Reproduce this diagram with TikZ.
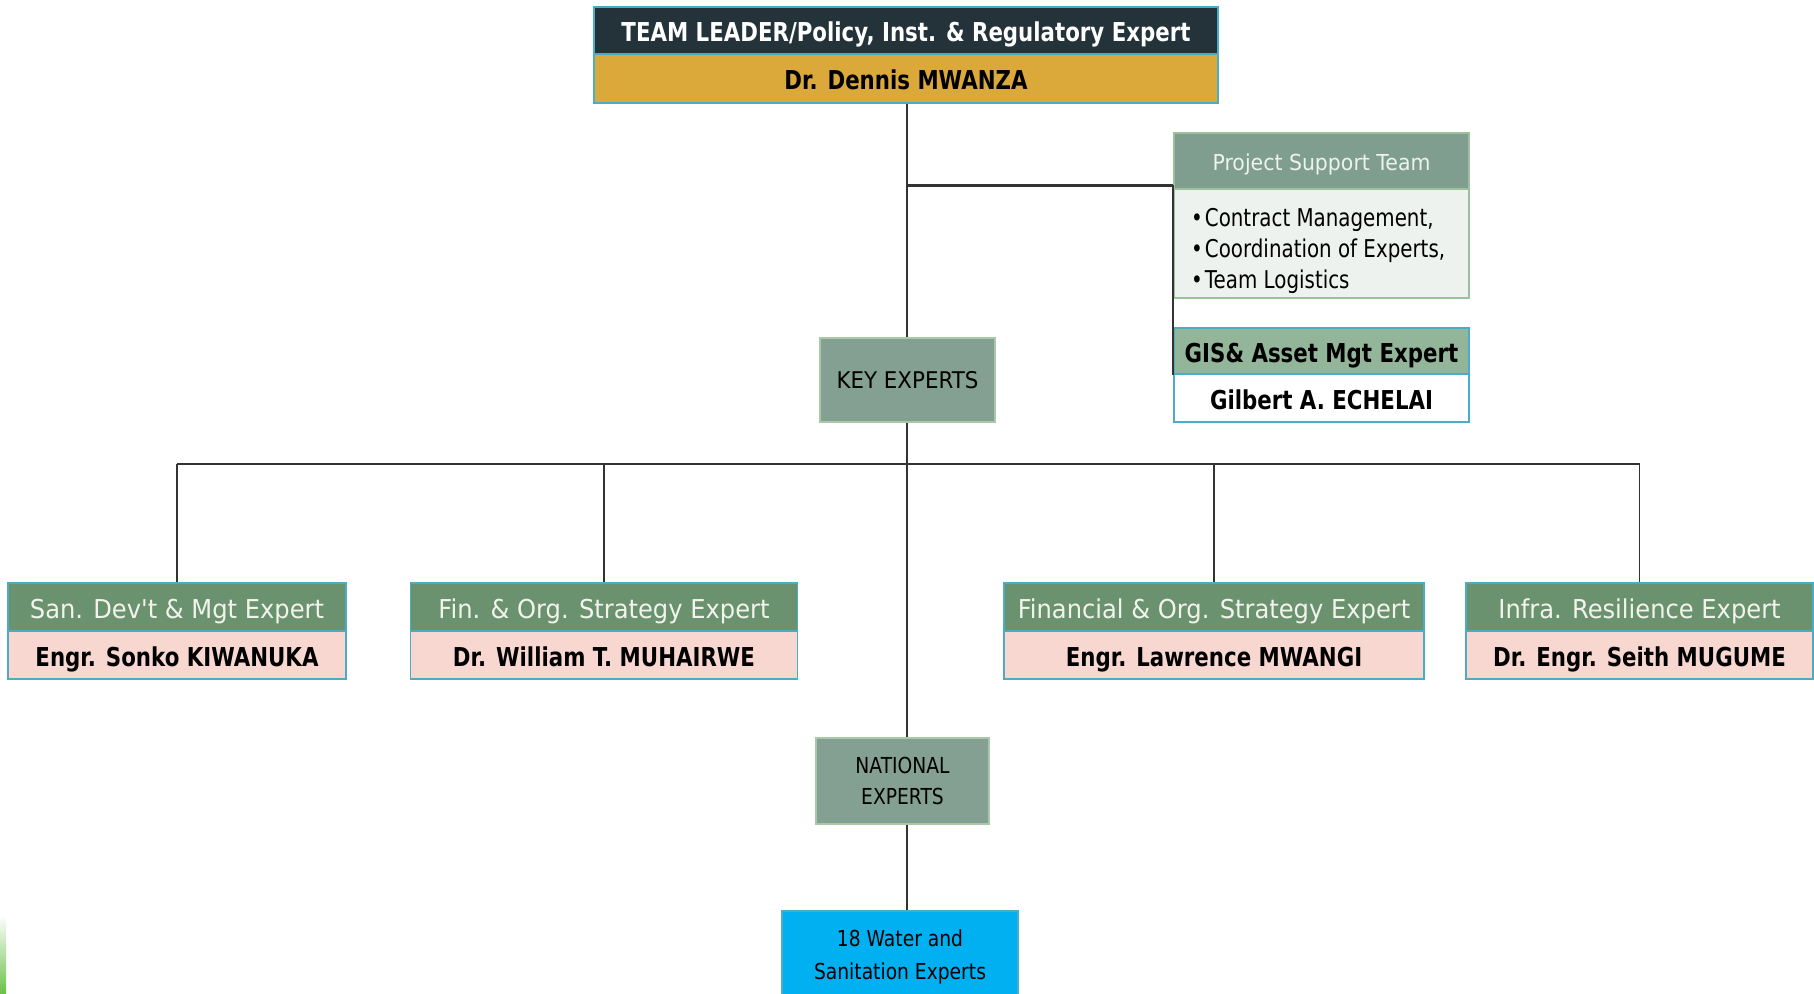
\documentclass[tikz,border=0pt]{standalone}
\usepackage{fontspec}
\setmainfont{DejaVu Sans}[FakeStretch=0.85]
\newfontfamily\bdf{DejaVu Sans}[FakeStretch=0.82]
\newfontfamily\rgA{DejaVu Sans}[FakeStretch=0.93]
\newfontfamily\rgB{DejaVu Sans}[FakeStretch=0.81]
\definecolor{tealb}{HTML}{4BACC6}
\definecolor{darkhd}{HTML}{24323A}
\definecolor{gold}{HTML}{DBA83A}
\definecolor{expgreen}{HTML}{6A926E}
\definecolor{pinkn}{HTML}{F8D7D1}
\definecolor{psgreen}{HTML}{7F9E8F}
\definecolor{psbody}{HTML}{EEF2EE}
\definecolor{psborder}{HTML}{9CC09C}
\definecolor{gisgreen}{HTML}{93B59A}
\definecolor{keygreen}{HTML}{84A092}
\definecolor{keyborder}{HTML}{A8C8A8}
\definecolor{cyanb}{HTML}{00B0F0}
\definecolor{linec}{HTML}{333333}
\definecolor{barg}{HTML}{6CC24A}
\definecolor{hdtext}{HTML}{F2F4EC}
\begin{document}
\begin{tikzpicture}[x=1pt,y=-1pt,
  base/.style={draw=tealb, line width=1.6pt, inner sep=0pt, minimum height=48pt, align=center, text height=22pt, text depth=0pt},
  tophd/.style={base, fill=darkhd, text=white, font=\bdf\bfseries\fontsize{26}{28}\selectfont},
  topnm/.style={base, fill=gold, text=black, font=\bdf\bfseries\fontsize{26}{28}\selectfont},
  hdr/.style={base, fill=expgreen, text=hdtext, font=\rgA\fontsize{26}{28}\selectfont},
  nm/.style={base, fill=pinkn, text=black, font=\bdf\bfseries\fontsize{26}{28}\selectfont},
  gishd/.style={base, fill=gisgreen, text=black, font=\bdf\bfseries\fontsize{26}{28}\selectfont},
  gisnm/.style={base, fill=white, text=black, font=\bdf\bfseries\fontsize{26}{28}\selectfont},
  pshd/.style={draw=psborder, line width=1.6pt, fill=psgreen, text=psbody, inner sep=0pt, text height=18.5pt, text depth=0pt, font=\rgA\fontsize{22}{24}\selectfont},
  psbd/.style={draw=psborder, line width=1.6pt, fill=psbody, inner sep=0pt},
  pstxt/.style={text=black, inner sep=0pt, align=left, font=\rgB\fontsize{24.5}{31}\selectfont},
  grp/.style={draw=keyborder, line width=1.2pt, fill=keygreen, text=black, inner sep=0pt, align=center},
  wat/.style={draw=tealb, line width=1.2pt, fill=cyanb, text=black, inner sep=0pt, align=center, font=\fontsize{22}{33}\selectfont},
  conn/.style={draw=linec, line width=1.5pt},
  thick conn/.style={draw=linec, line width=3pt}
]
\useasboundingbox (0,0) rectangle (1814,993);

% bottom-left green bar
\shade[top color=white, bottom color=barg] (0,915) rectangle (6,993);

\coordinate (j1) at (907,185);
\coordinate (bus) at (907,464);

% top
\node[tophd, minimum width=624pt, minimum height=47pt] (tlh) at (906,30.5) {TEAM LEADER/Policy, Inst. \& Regulatory Expert};
\node[topnm, minimum width=624pt, minimum height=49pt] (tln) at (906,78.5) {Dr. Dennis MWANZA};

% project support
\node[pshd, minimum width=295pt, minimum height=56pt] (psh) at (1321.5,161) {Project Support Team};
\node[psbd, minimum width=295pt, minimum height=109pt] (psb) at (1321.5,243.5) {};
\node[pstxt, anchor=west] (pst) at (1191,250.5) {\textbullet\hspace{2pt}Contract Management,\\\textbullet\hspace{2pt}Coordination of Experts,\\\textbullet\hspace{2pt}Team Logistics};

% GIS
\node[gishd, minimum width=295pt, minimum height=46pt] (gish) at (1321.5,351) {GIS\& Asset Mgt Expert};
\node[gisnm, minimum width=295pt, minimum height=48pt] (gisn) at (1321.5,398) {Gilbert A. ECHELAI};

% key experts
\node[grp, minimum width=175pt, minimum height=84pt, font=\rgA\fontsize{23}{31}\selectfont] (key) at (907.5,380) {KEY EXPERTS};

% experts
\node[hdr, minimum width=338pt] (e1h) at (177,607) {San. Dev't \& Mgt Expert};
\node[nm, minimum width=338pt] (e1n) at (177,655) {Engr. Sonko KIWANUKA};
\node[hdr, minimum width=387pt] (e2h) at (604,607) {Fin. \& Org. Strategy Expert};
\node[nm, minimum width=387pt] (e2n) at (604,655) {Dr. William T. MUHAIRWE};
\node[hdr, minimum width=420pt] (e3h) at (1214,607) {Financial \& Org. Strategy Expert};
\node[nm, minimum width=420pt] (e3n) at (1214,655) {Engr. Lawrence MWANGI};
\node[hdr, minimum width=347pt] (e4h) at (1639.5,607) {Infra. Resilience Expert};
\node[nm, minimum width=347pt] (e4n) at (1639.5,655) {Dr. Engr. Seith MUGUME};

% national
\node[grp, minimum width=173pt, minimum height=86pt, font=\fontsize{22}{31}\selectfont] (nat) at (902.5,781) {NATIONAL\\EXPERTS};

% water
\node[wat, minimum width=236pt, minimum height=92pt] (wat) at (900,957) {18 Water and\\Sanitation Experts};

% connectors
\draw[conn] (j1 |- tln.south) -- (j1 |- key.north);
\draw[thick conn] (j1) -- (j1 -| psh.west);
\draw[conn] (j1 -| psh.west) -- (gish.south west);
\draw[conn] (j1 |- key.south) -- (j1 |- nat.north);
\draw[conn] (bus -| e1h.north) -- (bus -| e4h.north);
\draw[conn] (bus -| e1h.north) -- (e1h.north);
\draw[conn] (bus -| e2h.north) -- (e2h.north);
\draw[conn] (bus -| e3h.north) -- (e3h.north);
\draw[conn] (bus -| e4h.north) -- (e4h.north);
\draw[conn] (j1 |- nat.south) -- (j1 |- wat.north);
\end{tikzpicture}
\end{document}
